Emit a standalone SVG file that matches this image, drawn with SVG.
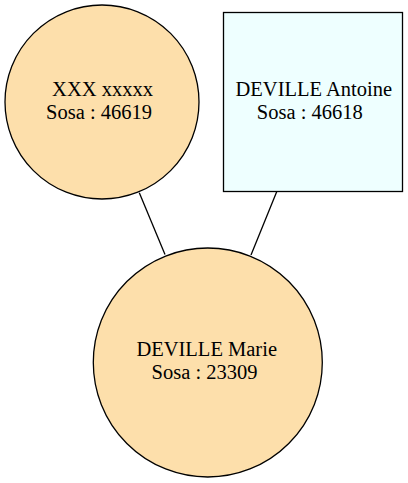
<svg xmlns="http://www.w3.org/2000/svg" width="408" height="483" viewBox="0 0 408 483">
<style>
.node{stroke:#000;stroke-width:1.3}
.f{fill:#fddfab}
.m{fill:#eeffff}
text{font-family:"Liberation Serif","Times New Roman",serif;font-size:20.5px;fill:#000;text-anchor:middle}
.edge{stroke:#000;stroke-width:1.3;fill:none}
</style>
<rect width="408" height="483" fill="#fff"/>
<g id="edges">
<line class="edge" x1="139.3" y1="192.7" x2="165" y2="254.5"/>
<line class="edge" x1="276.7" y1="191.7" x2="251" y2="255"/>
</g>
<g id="node_46619">
<circle class="node f" cx="102" cy="102" r="97"/>
<text x="102.5" y="95.5">XXX xxxxx</text>
<text x="99" y="119">Sosa : 46619</text>
</g>
<g id="node_46618">
<rect class="node m" x="223.5" y="12.5" width="179" height="179"/>
<text x="313.8" y="95.5">DEVILLE Antoine</text>
<text x="309.8" y="119">Sosa : 46618</text>
</g>
<g id="node_23309">
<circle class="node f" cx="207.8" cy="362.5" r="114.5"/>
<text x="206.7" y="355.7">DEVILLE Marie</text>
<text x="204.5" y="379">Sosa : 23309</text>
</g>
</svg>
